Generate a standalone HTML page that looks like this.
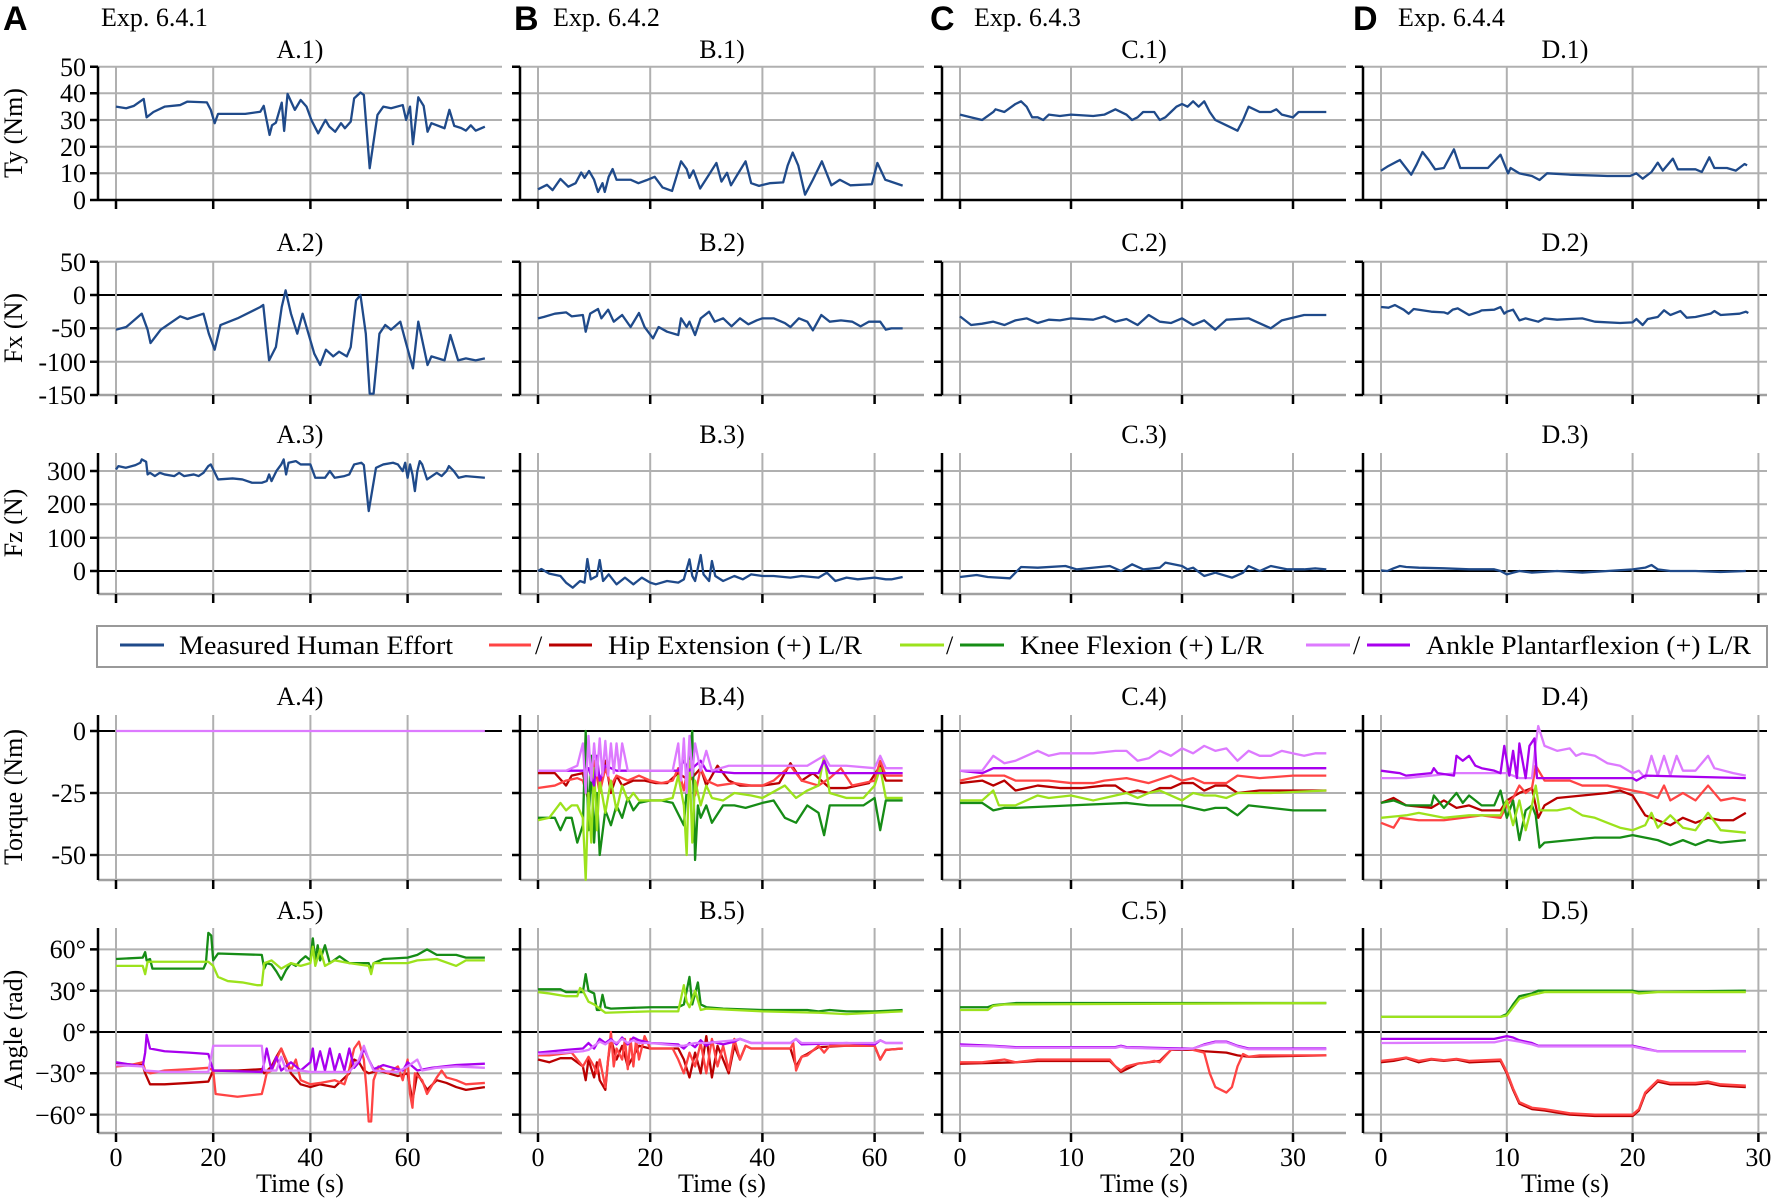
<!DOCTYPE html>
<html><head><meta charset="utf-8"><style>
html,body{margin:0;padding:0;background:#fff}
svg{display:block}
text{font-family:"Liberation Serif","DejaVu Serif",serif;font-size:26px;fill:#000}
.h{font-family:"Liberation Sans","DejaVu Sans",sans-serif;font-weight:bold;font-size:34px}
.d polyline{fill:none;stroke-width:2.3;vector-effect:non-scaling-stroke;stroke-linejoin:round}
.bl{stroke:#1f4a8a}.hl{stroke:#ff4444}.hr{stroke:#b80000}.kl{stroke:#9ce21c}.kr{stroke:#168c16}.al{stroke:#dd7aff}.ar{stroke:#a800ee}
</style></head><body>
<svg width="1772" height="1200" viewBox="0 0 1772 1200" xmlns="http://www.w3.org/2000/svg">
<defs>
<g id="vg">
<path d="M0 66.7V200M0 262V395M0 453V594M0 715V880M0 928V1133" stroke="#b0b0b0" stroke-width="2" fill="none"/>
<path d="M0 200v9M0 395v9M0 594v9M0 880v9M0 1133v9" stroke="#000" stroke-width="2.5" fill="none"/>
</g>
<g id="fr">
<path d="M0 66.7H404M0 93.3H404M0 120H404M0 146.7H404M0 173.3H404M0 261.7H404M0 328.3H404M0 361.7H404M0 471H404M0 504.3H404M0 537.7H404M0 793H404M0 855H404M0 949.4H404M0 990.7H404M0 1073.3H404M0 1114.6H404" stroke="#b0b0b0" stroke-width="2" fill="none"/>
<path d="M0 395H404M0 594H404M0 880H404M0 1133H404" stroke="#a0a0a0" stroke-width="2.5" fill="none"/>
<path d="M0 295H404M0 571H404M0 731H404M0 1032H404" stroke="#000" stroke-width="2" fill="none"/>
</g>
<g id="sp">
<path d="M0 66.7V200M0 262V395M0 453V594M0 715V880M0 928V1133M0 200H404" stroke="#000" stroke-width="2.5" fill="none"/>
<path d="M-8 66.7H0M-8 93.3H0M-8 120H0M-8 146.7H0M-8 173.3H0M-8 200H0M-8 261.7H0M-8 295H0M-8 328.3H0M-8 361.7H0M-8 395H0M-8 471H0M-8 504.3H0M-8 537.7H0M-8 571H0M-8 731H0M-8 793H0M-8 855H0M-8 949.4H0M-8 990.7H0M-8 1032H0M-8 1073.3H0M-8 1114.6H0" stroke="#000" stroke-width="2.5" fill="none"/>
</g>
</defs>

<use href="#fr" x="98"/><use href="#fr" x="520"/><use href="#fr" x="942"/><use href="#fr" x="1363"/>
<use href="#vg" x="116"/><use href="#vg" x="213.2"/><use href="#vg" x="310.4"/><use href="#vg" x="407.6"/>
<use href="#vg" x="538"/><use href="#vg" x="650.2"/><use href="#vg" x="762.4"/><use href="#vg" x="874.6"/>
<use href="#vg" x="960"/><use href="#vg" x="1071"/><use href="#vg" x="1182"/><use href="#vg" x="1293"/>
<use href="#vg" x="1381"/><use href="#vg" x="1506.8"/><use href="#vg" x="1632.6"/><use href="#vg" x="1758.4"/>

<!-- Headers -->
<text class="h" x="3" y="30">A</text><text x="101" y="26">Exp. 6.4.1</text>
<text class="h" x="514" y="30">B</text><text x="553" y="26">Exp. 6.4.2</text>
<text class="h" x="930" y="30">C</text><text x="974" y="26">Exp. 6.4.3</text>
<text class="h" x="1353" y="30">D</text><text x="1398" y="26">Exp. 6.4.4</text>

<!-- titles -->
<g text-anchor="middle">
<text x="300" y="58">A.1)</text><text x="722" y="58">B.1)</text><text x="1144" y="58">C.1)</text><text x="1565" y="58">D.1)</text>
<text x="300" y="251">A.2)</text><text x="722" y="251">B.2)</text><text x="1144" y="251">C.2)</text><text x="1565" y="251">D.2)</text>
<text x="300" y="443">A.3)</text><text x="722" y="443">B.3)</text><text x="1144" y="443">C.3)</text><text x="1565" y="443">D.3)</text>
<text x="300" y="705">A.4)</text><text x="722" y="705">B.4)</text><text x="1144" y="705">C.4)</text><text x="1565" y="705">D.4)</text>
<text x="300" y="919">A.5)</text><text x="722" y="919">B.5)</text><text x="1144" y="919">C.5)</text><text x="1565" y="919">D.5)</text>
<!-- x tick labels -->
<text x="116" y="1166">0</text><text x="213.2" y="1166">20</text><text x="310.4" y="1166">40</text><text x="407.6" y="1166">60</text>
<text x="538" y="1166">0</text><text x="650.2" y="1166">20</text><text x="762.4" y="1166">40</text><text x="874.6" y="1166">60</text>
<text x="960" y="1166">0</text><text x="1071" y="1166">10</text><text x="1182" y="1166">20</text><text x="1293" y="1166">30</text>
<text x="1381" y="1166">0</text><text x="1506.8" y="1166">10</text><text x="1632.6" y="1166">20</text><text x="1758.4" y="1166">30</text>
<text x="300" y="1192">Time (s)</text><text x="722" y="1192">Time (s)</text><text x="1144" y="1192">Time (s)</text><text x="1565" y="1192">Time (s)</text>
</g>
<!-- y tick labels -->
<g text-anchor="end">
<text x="86" y="76">50</text><text x="86" y="102">40</text><text x="86" y="129">30</text><text x="86" y="156">20</text><text x="86" y="182">10</text><text x="86" y="209">0</text>
<text x="86" y="271">50</text><text x="86" y="304">0</text><text x="86" y="337">-50</text><text x="86" y="371">-100</text><text x="86" y="404">-150</text>
<text x="86" y="480">300</text><text x="86" y="513">200</text><text x="86" y="547">100</text><text x="86" y="580">0</text>
<text x="86" y="740">0</text><text x="86" y="802">-25</text><text x="86" y="864">-50</text>
<text x="86" y="958">60°</text><text x="86" y="1000">30°</text><text x="86" y="1041">0°</text><text x="86" y="1082">−30°</text><text x="86" y="1124">−60°</text>
</g>
<g text-anchor="middle">
<text transform="translate(22,133) rotate(-90)">Ty (Nm)</text>
<text transform="translate(22,328) rotate(-90)">Fx (N)</text>
<text transform="translate(22,523) rotate(-90)">Fz (N)</text>
<text transform="translate(22,797) rotate(-90)">Torque (Nm)</text>
<text transform="translate(22,1030) rotate(-90)">Angle (rad)</text>
</g>

<!-- Legend -->
<rect x="97" y="626" width="1670" height="41" fill="#fff" stroke="#999" stroke-width="2"/>
<g stroke-width="3" fill="none">
<path d="M120 645H164" stroke="#1f4a8a"/>
<path d="M489 645H531" stroke="#ff4444"/><path d="M549 645H592" stroke="#b80000"/>
<path d="M900 645H944" stroke="#9ce21c"/><path d="M960 645H1004" stroke="#168c16"/>
<path d="M1306 645H1350" stroke="#dd7aff"/><path d="M1367 645H1410" stroke="#a800ee"/>
</g>
<text x="179" y="654" textLength="274" lengthAdjust="spacingAndGlyphs">Measured Human Effort</text>
<text x="535" y="654">/</text><text x="946" y="654">/</text><text x="1353" y="654">/</text>
<text x="608" y="654" textLength="254" lengthAdjust="spacingAndGlyphs">Hip Extension (+) L/R</text>
<text x="1020" y="654" textLength="244" lengthAdjust="spacingAndGlyphs">Knee Flexion (+) L/R</text>
<text x="1426" y="654" textLength="325" lengthAdjust="spacingAndGlyphs">Ankle Plantarflexion (+) L/R</text>

<g class="d">
<!-- ROW 1 -->
<polyline class="bl" transform="translate(116,200) scale(4.86,-2.667)" points="0,35 2.1,34.4 3.7,35.3 5.7,37.9 6.3,31 7.7,33 10,35 13.2,35.6 14.7,36.9 18.7,36.6 19.5,33.8 20.3,28.8 21,32.3 26.6,32.3 29.7,33.1 30.4,35.3 31.6,24.4 32.1,28 32.9,29 34.1,36.5 34.6,25.9 35.3,39.8 36.8,33.8 38,37.5 39.2,35 40.2,30 41.6,25 43.1,30 43.9,27.5 45.1,25.6 46.3,28.8 47.1,26.9 48.3,29.4 49,38.1 50.3,40.3 51,39.4 52.2,11.9 53.8,31.9 55,35 56.6,34.4 59,35.6 59.7,30 60.5,35 61.1,20.9 62.2,38.5 63.3,35.3 64.1,25.6 64.9,28.8 67.6,26.9 68.6,33.8 69.6,27.8 71,27 72,26 73,28 74,26 75.9,27.5"/>
<polyline class="bl" transform="translate(538,200) scale(5.61,-2.667)" points="0,4 1.6,5.7 2.6,3.7 4,7.9 5.4,5 6.7,6.3 7.7,10.3 8.3,8.3 9.1,10.9 10,7.6 10.7,3 11.5,6.3 11.9,3 12.6,8.7 13.3,11.6 14,7.6 16.5,7.6 17.9,6.3 19.3,7.4 20.8,8.7 22.2,4.7 23.9,3.4 25.5,14.5 26.5,11.6 27,8.3 27.7,11.1 28.9,4.3 30.3,8.9 31.8,13.9 32.7,6.9 33.7,10.2 34.4,5.5 35.6,9.7 37,14.5 38,6.3 39.4,5.3 41.3,6.3 43.7,6.6 44.5,12.9 45.4,17.8 46.4,12.9 47.6,2 49,7.6 50.6,14.5 52.3,5.5 53.8,7.6 55.7,5.5 59.5,5.9 60.5,13.9 61.9,7.6 65,5.4"/>
<polyline class="bl" transform="translate(960,200) scale(11.1,-2.667)" points="0,32 1,31 2,30 3,33 3.2,34 4,33 5,36 5.5,37 6,35 6.5,31 7,31 7.5,30 8,32 9,31.5 10,32 12,31.5 13,32 14,34 15,32 15.5,30 16,31 16.5,33 17.5,33 18,30 18.5,31 19,33 19.5,35 20,36 20.5,35 21,37 21.5,35 22,37 22.5,33 23,30 24,28 25,26 25.5,30 26,35 27,33 28,33 28.5,34 29,32 30,31 30.5,33 32,33 33,33"/>
<polyline class="bl" transform="translate(1381,200) scale(12.58,-2.667)" points="0,11 0.5,12.5 1.5,15 2.4,9.5 2.8,13 3.3,18 3.8,15 4.3,11.5 5,12 5.8,19 6.3,12 7,12 8,12 8.5,12 9.5,17 10.1,10 10.3,12 11,10 12,9 12.6,7.5 13.2,10 15,9.5 18,9 19.8,9 20.3,10 20.8,8 21.5,10.5 22,14 22.4,11 23.2,15.5 23.6,11.5 25,11.5 25.5,10.5 26.1,16 26.5,12 27.5,12 28.2,11 28.9,13.5 29.1,13"/>
<!-- ROW 2 -->
<polyline class="bl" transform="translate(116,295) scale(4.86,-0.667)" points="0,-52 2.1,-48 5.3,-28 6.5,-52 7.1,-72 9.2,-52 13.2,-32 14.7,-36 18,-28 19.1,-58 20.3,-82 21.5,-45 25,-35 29.7,-18 30.3,-15 31.5,-98 32.9,-78 34.1,-18 34.9,7 36,-28 37.3,-58 38.4,-28 39.6,-58 40.8,-88 42,-105 43.2,-82 44.7,-92 45.9,-85 47.5,-92 48.3,-78 49.4,-8 50.3,0 51.4,-58 52.2,-148 53,-148 54.2,-58 55.4,-45 56.6,-52 58.5,-40 59.6,-70 61.1,-110 62.2,-40 64.1,-105 64.9,-92 67.6,-98 68.8,-60 70.4,-98 72,-95 74,-98 75.9,-95"/>
<polyline class="bl" transform="translate(538,295) scale(5.61,-0.667)" points="0,-35 1,-33 3,-28 5,-26 6,-32 8,-30 8.5,-55 9.3,-28 10.7,-21 11.3,-35 12.5,-22 13.5,-40 15,-30 16.5,-48 18,-27 19,-48 20.5,-65 21.5,-48 23,-55 25,-60 25.5,-35 26.5,-48 27,-40 28,-60 29,-35 30.5,-25 31.5,-40 33,-35 34.5,-47 36,-35 37.5,-44 39,-38 40,-35 42,-35 44,-42 45,-48 46.5,-35 48,-40 49,-53 50.5,-30 52,-40 54,-38 56,-40 57.5,-47 59,-40 61,-40 62,-52 63,-50 65,-50"/>
<polyline class="bl" transform="translate(960,295) scale(11.1,-0.667)" points="0,-32 1,-45 2,-43 3,-40 4,-45 5,-38 6,-35 7,-42 8,-37 9,-38 10,-35 12,-37 13,-32 14,-40 15,-36 16,-45 17,-30 18,-40 19,-42 20,-35 21,-45 22,-38 23,-52 24,-37 26,-35 28,-50 29,-38 31,-30 33,-30"/>
<polyline class="bl" transform="translate(1381,295) scale(12.58,-0.667)" points="0,-18 0.6,-19 1.1,-15 1.8,-22 2.2,-28 2.6,-21 4,-25 5,-26 5.3,-28 5.7,-22 6.1,-20 7,-30 7.8,-25 8,-23 9,-22 9.5,-18 9.8,-28 10,-25 10.5,-22 11,-38 11.5,-35 12.5,-40 13,-35 14,-37 15,-36 16,-35 17,-40 19,-42 20,-41 20.3,-36 20.8,-45 21.2,-36 22,-33 22.5,-23 23,-30 23.8,-24 24.3,-34 25,-33 26.2,-28 26.5,-24 27,-30 28.5,-28 29,-25 29.2,-27"/>
<!-- ROW 3 -->
<polyline class="bl" transform="translate(116,571) scale(4.86,-0.333)" points="0,305 0.5,315 2,310 4,318 5,325 5.3,335 6.2,328 6.5,290 7,295 8,285 9,295 10,290 12,285 13,295 14,285 16,290 17,285 18,295 19,315 19.5,320 20.5,290 21,275 24,278 26,275 28,265 30,265 31,270 31.5,290 32,270 33,300 34,320 34.5,335 35,290 35.5,325 37,330 38,320 40,320 40.5,300 41,280 43,280 44,300 45,280 47,285 48,290 49,320 50.5,325 51,318 52,180 53.5,310 55,320 57,325 58,320 59,300 59.5,325 60,280 60.5,320 61,290 61.5,240 62,300 62.5,330 63,320 64,275 66,295 67,285 68,300 68.5,315 69.5,300 70.5,280 72,285 75.9,280"/>
<polyline class="bl" transform="translate(538,571) scale(5.61,-0.333)" points="0,0 0.6,6 2,-8 4,-15 5,-35 6.2,-50 7.5,-30 8.3,-35 8.8,36 9.4,-25 10.5,-15 11,33 11.6,-30 12.6,-10 14,-40 15.5,-20 17,-40 18.5,-20 20,-35 21,-40 23,-30 25,-35 26,-25 27,35 27.5,-15 28,-30 29,48 29.5,-10 30.5,-30 31,30 31.6,-15 33,-30 35,-15 36.5,-25 38,-10 40,-15 42,-15 45,-20 47,-15 50,-20 51.5,-5 53,-30 55,-20 57,-25 60,-20 62,-25 63,-25 65,-18"/>
<polyline class="bl" transform="translate(960,571) scale(11.1,-0.333)" points="0,-18 1.5,-12 2.5,-18 4.5,-22 5.5,12 7,10 9.5,15 10.5,5 13.5,15 14.5,0 15.5,20 16.5,5 18,10 18.5,25 20,15 20.5,5 21,10 22,-15 23,-5 24.5,-20 25.5,-5 26,15 27,0 28,15 29.5,5 31,5 32,8 33,5"/>
<polyline class="bl" transform="translate(1381,571) scale(12.58,-0.333)" points="0,2 0.5,0 1,8 1.5,15 2,12 3,10 5,8 7,5 9,5 9.5,0 10,-10 10.5,-5 11,0 12,-5 14,0 16,-5 18,0 20,5 21,10 21.5,18 22,5 23,0 25,0 27,-3 29,0"/>
<!-- ROW 4 -->
<polyline class="al" transform="translate(116,731) scale(4.86,-2.48)" points="0,0 75.9,0"/>
<g transform="translate(538,731) scale(5.61,-2.48)">
<polyline class="hr" points="0,-17 3,-17 5,-22 6,-18 8,-17 9,-28 10,-15 11,-22 12,-12 13,-25 14,-18 15,-22 17,-20 19,-20 21,-21 23,-21 25,-17 27,-20 29,-15 30,-22 32,-14 34,-20 36,-22 40,-22 43,-21 45,-13 47,-20 49,-17 52,-23 55,-23 57,-22 59,-21 61,-14 62,-20 65,-20"/>
<polyline class="hl" points="0,-23 3,-22 5,-20 7,-19 8,-20 9,-28 10,-12 11,-25 12,-15 13,-22 14,-18 16,-20 18,-18 20,-20 22,-21 24,-20 25,-15 26,-24 27,-10 28,-26 29,-15 30,-20 32,-22 35,-21 38,-22 40,-22 42,-20 45,-14 47,-20 50,-22 52,-19 54,-15 56,-22 58,-21 60,-20 61,-12 62,-18 65,-18"/>
<polyline class="kr" points="0,-35 3,-35 4,-40 5,-35 6,-35 7,-45 8,-38 8.5,0 9,-40 9.5,-10 10,-45 10.5,-25 11,-50 12,-32 13,-38 14,-30 15,-35 16,-27 17,-32 18,-29 20,-28 22,-28 24,-29 26,-38 27,-10 27.5,0 28,-52 28.5,-30 29,-35 30,-30 31,-37 33,-30 35,-30 37,-31 40,-29 42,-28 44,-35 46,-37 48,-30 50,-33 51,-42 52,-30 55,-30 58,-30 60,-27 61,-40 62,-28 65,-28"/>
<polyline class="kl" points="0,-36 2,-35 4,-29 5,-32 6,-30 7,-30 8,-35 8.5,-60 9,-25 9.5,-45 10,-15 10.5,-40 11,-20 12,-33 13,-20 14,-32 15,-22 16,-28 17,-25 18,-28 20,-28 22,-28 24,-27 25,-18 26,-30 26.5,-50 27,-12 27.5,-45 28,-20 29,-30 30,-22 31,-27 33,-28 35,-25 38,-26 40,-27 44,-22 46,-27 48,-24 50,-22 51,-10 52,-25 55,-27 58,-27 60,-22 61,-15 62,-27 65,-27"/>
<polyline class="ar" points="0,-16 5,-16 8,-16 9,-15 10,-22 10.5,-10 11,-20 12,-14 14,-16 20,-16 25,-16 26,-12 27,-16 29,-12 30,-16 35,-17 40,-17 45,-17 50,-17 51,-12 52,-17 55,-17 65,-17"/>
<polyline class="al" points="0,-16 5,-16 7,-14 8,-5 8.5,-25 9,-2 9.5,-20 10,-5 10.5,-18 11,-3 11.5,-18 12,-4 12.5,-18 13,-5 13.5,-17 14,-5 14.5,-16 15,-5 16,-16 18,-16 22,-16 24,-16 25,-5 25.5,-20 26,-3 26.5,-25 27,-2 27.5,-18 28,-5 29,-16 30,-8 31,-16 34,-14 36,-14 40,-14 45,-14 48,-14 51,-10 52,-14 55,-14 60,-15 61,-10 62,-15 65,-15"/>
</g>
<g transform="translate(960,731) scale(11.1,-2.48)">
<polyline class="hr" points="0,-21 2,-20 3,-22 4,-20 5,-24 7,-22 9,-23 11,-23 13,-22 14,-22 15,-25 16,-24 17,-25 18,-23 19,-23 20,-21 21,-21 22,-24 23,-22 24,-22 25,-25 27,-24 30,-24 33,-24"/>
<polyline class="hl" points="0,-20 2,-18 4,-18 5,-20 8,-20 10,-21 12,-21 13,-20 15,-19 17,-21 19,-18 20,-20 21,-19 22,-21 23,-21 24,-21 25,-18 27,-19 30,-18 33,-18"/>
<polyline class="kr" points="0,-29 2,-29 3,-32 4,-31 5,-31 10,-30 15,-29 17,-30 20,-30 22,-32 23,-31 24,-31 25,-34 26,-30 28,-31 30,-32 33,-32"/>
<polyline class="kl" points="0,-28 2,-28 3,-24 3.5,-30 5,-30 7,-26 8,-27 10,-26 12,-28 13,-27 15,-25 16,-27 17,-25 18,-24 20,-28 21,-25 22,-26 23,-26 24,-27 25,-25 26,-25 28,-25 33,-24"/>
<polyline class="ar" points="0,-16 2,-17 3,-15 33,-15"/>
<polyline class="al" points="0,-16 2,-16 3,-10 4,-13 5,-12 6,-10 7,-8 8,-10 9,-9 10,-9 12,-9 14,-8 15,-8 16,-12 17,-11 18,-8 19,-10 20,-7 21,-9 22,-6 23,-8 24,-7 25,-12 26,-8 27,-10 28,-10 29,-8 30,-9 31,-10 32,-9 33,-9"/>
</g>
<g transform="translate(1381,731) scale(12.58,-2.48)">
<polyline class="hr" points="0,-29 1,-27 2,-30 4,-31 5,-28 6,-31 7,-30 8,-32 9.5,-32 10,-28 11,-25 12,-23 12.5,-35 13,-30 14,-27 16,-26 18,-25 19,-24 20,-26 21,-34 22,-36 23,-38 24,-35 25,-37 26,-35 27,-36 28,-36 29,-33"/>
<polyline class="hl" points="0,-37 1,-39 1.5,-35 3,-36 5,-36 8,-34 9.5,-35 10,-30 10.5,-27 11,-22 11.5,-25 12,-23 12.3,-14 13,-20 14,-20 15,-20 16,-22 18,-22 20,-24 21,-25 22,-27 22.5,-22 23,-28 24,-25 25,-28 26,-22 27,-28 28,-27 29,-28"/>
<polyline class="kr" points="0,-29 1,-28 2,-30 4,-30 4.2,-26 5,-31 6,-25 6.5,-29 7,-26 8,-30 9,-30 9.5,-24 10,-35 10.5,-28 11,-44 11.5,-32 12,-30 12.3,-34 12.6,-47 13,-45 15,-44 17,-43 19,-43 20,-42 21,-43 22,-44 23,-46 24,-44 25,-46 26,-44 27,-45 29,-44"/>
<polyline class="kl" points="0,-35 2,-34 3,-33 5,-35 7,-34 9.5,-34 10,-28 10.5,-38 11,-28 11.5,-40 12,-30 12.3,-22 12.6,-32 13,-32 14,-32 15,-31 16,-34 17,-35 18,-37 19,-39 20,-40 21,-38 21.5,-33 22,-39 23,-34 24,-39 25,-40 26,-33 27,-40 29,-41"/>
<polyline class="al" points="0,-19 2,-19 4,-18 6,-17 8,-17 10,-17 10.5,-18 11,-19 12,-19 12.3,-5 12.5,2 13,-6 14,-8 15,-7 15.5,-10 16,-9 17,-10 18,-13 19,-14 20,-17 20.5,-16 21,-19 21.5,-10 22,-18 22.5,-10 23,-18 23.5,-10 24,-16 25,-16 26,-10 26.5,-15 28,-17 29,-18"/>
<polyline class="ar" points="0,-16 1.5,-17 2,-18 4,-17 4.2,-15 4.5,-17 5.8,-18 6,-10 6.5,-12 7,-10 7.5,-14 8,-15 9,-16 9.5,-17 9.8,-6 10.2,-18 10.5,-8 10.8,-19 11,-5 11.5,-19 11.8,-6 12.2,-3 12.4,-19 13,-19 20,-19 20.3,-20 21,-18 29,-19"/>
</g>
<!-- ROW 5 -->
<g transform="translate(116,1032) scale(4.86,-1.377)">
<polyline class="kr" points="0,53 5.5,54 6,58 6.3,52 7,53 7.5,46 18,46 18.5,50 19,72 19.6,70 20,52 21,57 30,56 30.5,46 31,50 32,49 33,44 34,38 35,45 36,50 37,48 38,52 39,55 40,52 40.5,68 41,52 41.5,63 42,52 43,63 44,50 46,55 48,50 52,50 52.5,45 53,50 55,53 60,54 62,56 64,60 66,56 70,56 72,54 75.9,54"/>
<polyline class="kl" points="0,48 5.5,48 6,42 6.5,51 19,51 20,48 21,40 23,37 26,36 29,34 30,34 30.5,50 32,52 34,46 36,50 38,48 40,50 40.5,62 41,48 42,60 43,48 45,52 48,50 52,48 52.5,42 53,50 60,50 62,52 66,53 70,48 72,52 75.9,52"/>
<polyline class="hr" points="0,-23 5.5,-24 6,-30 7,-38 10,-38 15,-37 19,-36 20,-28 25,-28 30,-27 30.5,-30 32,-25 33,-18 34,-12 36,-30 38,-38 40,-40 42,-38 45,-40 48,-30 49,-20 50,-22 51,-28 52,-30 54,-28 56,-30 58,-32 60,-30 61,-50 62,-30 64,-42 66,-35 68,-37 70,-40 72,-42 75.9,-40"/>
<polyline class="hl" points="0,-25 3,-24 5.5,-22 6,-28 7,-30 10,-28 15,-27 19,-26 20,-28 20.5,-45 25,-47 30,-45 30.5,-38 31,-30 32,-28 33,-20 34,-12 35,-20 36,-28 37,-20 38,-35 40,-38 42,-37 45,-35 47,-38 48,-27 49,-12 50,-7 51,-20 51.5,-40 52,-65 52.5,-65 53,-35 54,-25 56,-30 58,-25 59,-35 60,-20 60.5,-45 61,-55 61.5,-30 63,-35 64,-45 66,-33 67,-28 68,-33 70,-35 72,-38 75.9,-37"/>
<polyline class="ar" points="0,-22 5.5,-25 6,-15 6.3,-2 7,-12 10,-14 15,-15 19,-16 20,-28 30,-29 30.5,-22 31,-12 32,-28 33,-18 34,-28 36,-22 38,-28 40,-22 40.5,-12 41,-28 42,-14 43,-28 44,-12 45,-28 46,-16 47,-28 48,-12 49,-26 50,-22 51,-12 52,-20 53,-27 55,-24 57,-26 59,-28 60,-22 62,-28 65,-26 70,-24 75.9,-23"/>
<polyline class="al" points="0,-24 5.5,-25 6,-28 10,-29 19,-29 20,-10 30,-10 30.5,-28 33,-28 34,-18 35,-28 38,-28 40,-29 45,-29 48,-29 50,-20 51,-10 52,-20 53,-28 58,-29 60,-25 62,-20 63,-28 66,-26 70,-25 75.9,-26"/>
</g>
<g transform="translate(538,1032) scale(5.61,-1.377)">
<polyline class="kr" points="0,31 4,31 5,29 8,29 8.5,42 9,30 10,28 10.5,16 11,16 11.5,27 12,18 13,17 20,18 25,18 26,20 27,40 27.5,20 28.5,36 29,20 30,18 33,17 40,16 48,16 50,15 52,16 55,15 60,15 65,16"/>
<polyline class="kl" points="0,29 2,28 5,26 7,26 7.5,32 8,30 9,22 10,20 12,14 20,15 25,15 26,34 26.5,22 27,18 28,30 29,16 30,17 35,16 40,15 50,14 55,13 60,14 65,15"/>
<polyline class="hr" points="0,-20 2,-22 4,-19 6,-19 8,-25 8.5,-35 9,-20 10,-33 10.5,-22 11,-35 12,-42 12.5,-20 13,-5 14,-20 15,-10 16,-25 18,-10 20,-12 25,-12 26,-20 27,-33 28,-15 29,-30 30,-3 31,-33 32,-10 33,-20 34,-30 35,-10 36,-20 37,-10 38,-12 45,-12 46,-25 47,-18 48,-16 50,-11 55,-10 60,-10 61,-20 62,-13 65,-12"/>
<polyline class="hl" points="0,-17 2,-17 4,-16 6,-15 7,-20 8,-25 9,-18 10,-25 10.5,-30 11,-20 12,-40 13,0 13.5,-25 14,-12 15,-20 15.5,-5 16,-27 16.5,-5 17,-25 17.5,-5 18,-20 19,-3 20,-12 22,-12 24,-12 25,-20 26,-30 27,-15 28,-25 29,-8 30,-30 31,-5 32,-25 33,-10 34,-28 35,-5 36,-20 37,-10 38,-12 45,-12 45.5,-8 46,-28 47,-18 48,-17 50,-10 51,-15 52,-10 55,-10 60,-10 61,-20 62,-13 65,-12"/>
<polyline class="ar" points="0,-15 5,-13 8,-12 9,-8 10,-12 11,-5 12,-8 13,-5 14,-9 15,-4 16,-9 17,-4 18,-6 20,-8 25,-9 26,-12 27,-8 28,-11 29,-6 30,-10 31,-7 33,-9 35,-7 36,-5 38,-8 45,-8 46,-5 47,-9 55,-8 60,-9 61,-6 62,-8 65,-8"/>
<polyline class="al" points="0,-16 5,-15 8,-14 9,-13 10,-10 11,-7 12,-9 13,-6 14,-8 15,-5 16,-8 17,-6 18,-8 20,-8 25,-10 26,-10 27,-9 28,-8 30,-8 35,-6 36,-5 38,-8 45,-8 46,-5 47,-8 55,-8 60,-8 61,-6 62,-8 65,-8"/>
</g>
<g transform="translate(960,1032) scale(11.1,-1.377)">
<polyline class="kr" points="0,18 2.5,18 3,19.5 5,21 33,21"/>
<polyline class="kl" points="0,16 2.5,16 3,19 4,20 33,21"/>
<polyline class="hr" points="0,-23 5,-22 7,-21 13.5,-21 14.5,-29 16,-23 18,-21 19,-13 21,-13 22,-14 24,-15 25,-17 26,-18 33,-17"/>
<polyline class="hl" points="0,-22 2,-22 4,-20 5,-22 7,-20 10,-20 13.5,-20 14,-25 14.5,-28 15,-25 16,-23 17,-22 17.5,-21 18,-22 19,-13 20,-12 21,-13 22,-15 22.5,-30 23,-40 24,-44 24.5,-40 25,-25 25.5,-16 26,-18 27,-17 28,-17 30,-17 33,-17"/>
<polyline class="ar" points="0,-9 3,-10 5,-11 14,-11 14.5,-10 15,-11 20,-12 21,-12 22,-9 23,-7 24,-7 25,-10 26,-12 33,-12"/>
<polyline class="al" points="0,-10 3,-10.5 5,-11.5 14,-11.5 14.5,-10.5 15,-11.5 20,-12.5 21,-12 22,-9.5 23,-7.5 24,-7.5 25,-10.5 26,-12.5 33,-12.5"/>
</g>
<g transform="translate(1381,1032) scale(12.58,-1.377)">
<polyline class="kr" points="0,11 9.5,11 10,13 10.5,20 11,26 12,28 12.5,30 20,30 20.5,29 29,30"/>
<polyline class="kl" points="0,11 9.5,11 10,12 11,24 12,27 13,29 20,29 20.5,28 22,29 29,29"/>
<polyline class="hr" points="0,-22 1,-21 2,-19 3,-22 4,-20 5,-21 6,-20 7,-22 9.5,-21 10,-30 10.5,-42 11,-52 12,-56 13,-57 15,-60 17,-61 20,-61 20.5,-57 21,-45 22,-36 23,-38 25,-38 26,-37 27,-39 29,-40"/>
<polyline class="hl" points="0,-21 1,-20 2,-18.5 3,-21 4,-19.5 5,-20.5 6,-19.5 7,-21 9.5,-20 10,-29 10.5,-41 11,-51 12,-55 13,-56 15,-59 17,-60 20,-60 20.5,-56 21,-44 22,-35 23,-37 25,-37 26,-36 27,-38 29,-39"/>
<polyline class="ar" points="0,-5 9,-5 10,-3 10.5,-4 11,-6 12,-8 12.5,-10 20,-10 21,-12 22,-14 29,-14"/>
<polyline class="al" points="0,-8 9,-7.5 10,-5.5 11,-7 12,-9 12.5,-10.5 20,-10.5 21,-12.5 22,-14 29,-14"/>
</g>
</g>

<use href="#sp" x="98"/><use href="#sp" x="520"/><use href="#sp" x="942"/><use href="#sp" x="1363"/>
</svg>
</body></html>
